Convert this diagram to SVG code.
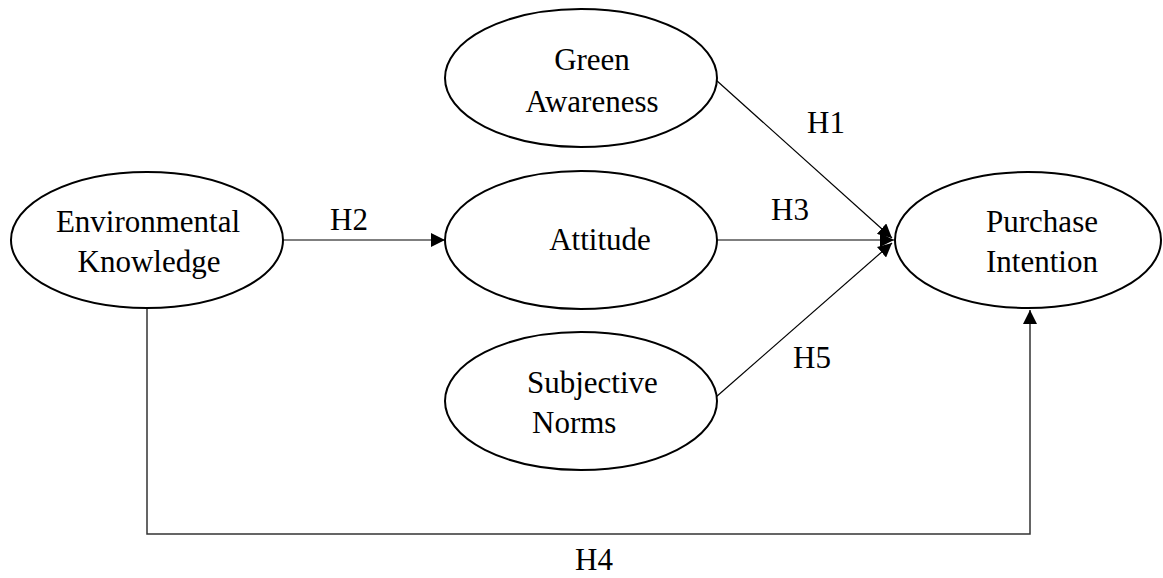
<svg xmlns="http://www.w3.org/2000/svg" width="1163" height="578" viewBox="0 0 1163 578">
<style>
.node{fill:#fff;stroke:#000;stroke-width:2}
.lbl{font-family:"Liberation Serif","Times New Roman",serif;font-size:31px;fill:#000}
.c{text-anchor:middle}
.edge{fill:none;stroke:#000;stroke-width:1.2}
</style>
<defs>
<marker id="arr" viewBox="0 0 14 14" refX="14" refY="7" markerWidth="14" markerHeight="14" markerUnits="userSpaceOnUse" orient="auto">
<path d="M0,0 L14,7 L0,14 Z" fill="#000"/>
</marker>
</defs>
<rect width="1163" height="578" fill="#fff"/>
<g id="connectors">
<line class="edge" x1="283" y1="240" x2="445" y2="240" marker-end="url(#arr)"/>
<line class="edge" x1="716" y1="240" x2="894" y2="240" marker-end="url(#arr)"/>
<line class="edge" x1="716" y1="80" x2="892" y2="238" marker-end="url(#arr)"/>
<line class="edge" x1="716" y1="397" x2="892" y2="243" marker-end="url(#arr)"/>
<polyline class="edge" points="147,308 147,534 1030,534 1030,310" style="stroke-width:1.5;stroke:#333" marker-end="url(#arr)"/>
<text class="lbl c" x="349" y="230">H2</text>
<text class="lbl c" x="826" y="133">H1</text>
<text class="lbl c" x="790" y="220">H3</text>
<text class="lbl c" x="812" y="368">H5</text>
<text class="lbl c" x="594" y="570">H4</text>
</g>
<g id="env">
<ellipse class="node" cx="147" cy="240" rx="136" ry="68"/>
<text class="lbl c" x="148" y="232">Environmental</text>
<text class="lbl c" x="149" y="272">Knowledge</text>
</g>
<g id="green">
<ellipse class="node" cx="581" cy="78" rx="136" ry="69"/>
<text class="lbl c" x="592" y="70">Green</text>
<text class="lbl c" x="592" y="112">Awareness</text>
</g>
<g id="attitude">
<ellipse class="node" cx="581" cy="240" rx="136" ry="69"/>
<text class="lbl c" x="600" y="250">Attitude</text>
</g>
<g id="subjective">
<ellipse class="node" cx="581" cy="401" rx="136" ry="69"/>
<text class="lbl" x="527" y="393">Subjective</text>
<text class="lbl" x="532" y="433">Norms</text>
</g>
<g id="purchase">
<ellipse class="node" cx="1028" cy="240" rx="133" ry="68"/>
<text class="lbl c" x="1042" y="232">Purchase</text>
<text class="lbl c" x="1042" y="272">Intention</text>
</g>
</svg>
